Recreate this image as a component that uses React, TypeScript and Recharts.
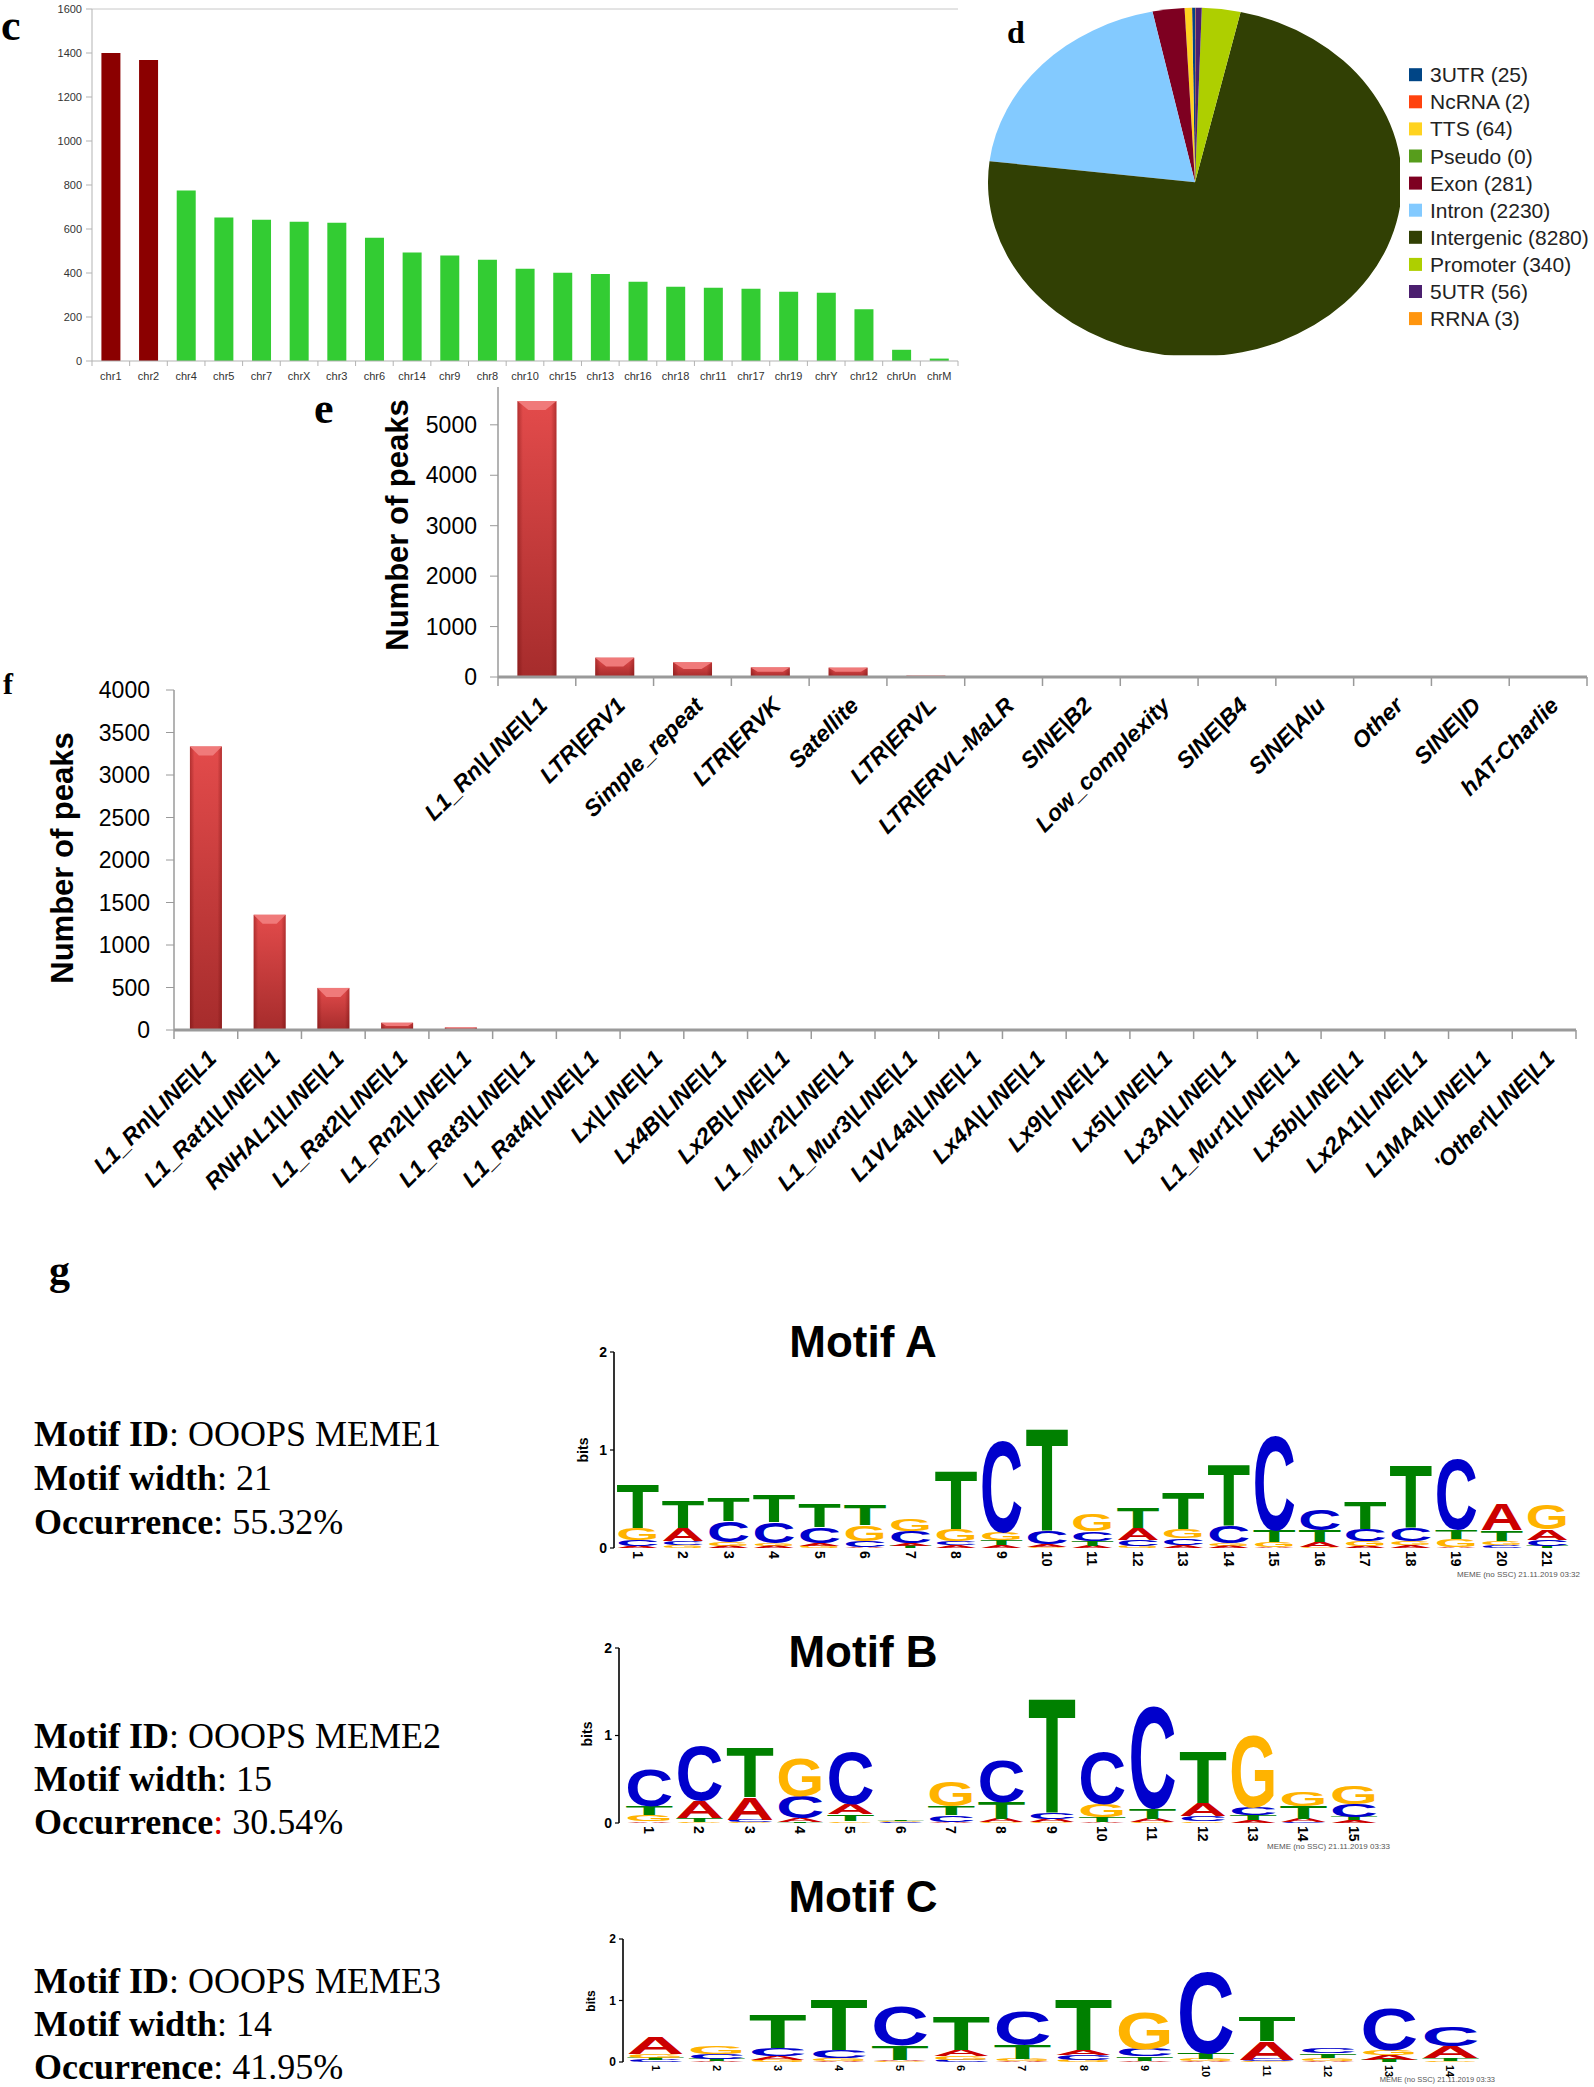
import React from 'react';
import { BarChart, Bar, XAxis, YAxis, Cell, PieChart, Pie, ReferenceLine } from 'recharts';

const SANS = "'Liberation Sans', Arial, Helvetica, sans-serif";
const SERIF = "'Liberation Serif', 'Times New Roman', serif";

// ---------- panel c : peaks per chromosome ----------
const chrNames = ['chr1', 'chr2', 'chr4', 'chr5', 'chr7', 'chrX', 'chr3', 'chr6', 'chr14', 'chr9', 'chr8', 'chr10', 'chr15', 'chr13', 'chr16', 'chr18', 'chr11', 'chr17', 'chr19', 'chrY', 'chr12', 'chrUn', 'chrM'];
const chrPeaks = [1400, 1368, 775, 652, 642, 633, 628, 560, 493, 480, 460, 419, 401, 395, 360, 338, 333, 328, 315, 310, 235, 51, 11];
const chrTicks = [0, 200, 400, 600, 800, 1000, 1200, 1400, 1600];

// ---------- panel d : genomic annotation ----------
const annoLabels = ['3UTR', 'NcRNA', 'TTS', 'Pseudo', 'Exon', 'Intron', 'Intergenic', 'Promoter', '5UTR', 'RRNA'];
const annoCounts = [25, 2, 64, 0, 281, 2230, 8280, 340, 56, 3];
const ANNO_COLORS = ['#004586', '#ff420e', '#ffd320', '#579d1c', '#7e0021', '#83caff', '#314004', '#aecf00', '#4b1f6f', '#ff950e'];

// ---------- panel e : repeat classes ----------
const repeatClasses = ['L1_Rn|LINE|L1', 'LTR|ERV1', 'Simple_repeat', 'LTR|ERVK', 'Satellite', 'LTR|ERVL', 'LTR|ERVL-MaLR', 'SINE|B2', 'Low_complexity', 'SINE|B4', 'SINE|Alu', 'Other', 'SINE|ID', 'hAT-Charlie'];
const repeatPeaks = [5470, 383, 290, 190, 185, 26, 20, 10, 8, 8, 3, 2, 1, 1];
const repeatTicks = [0, 1000, 2000, 3000, 4000, 5000];

// ---------- panel f : L1 subfamilies ----------
const l1Names = ['L1_Rn|LINE|L1', 'L1_Rat1|LINE|L1', 'RNHAL1|LINE|L1', 'L1_Rat2|LINE|L1', 'L1_Rn2|LINE|L1', 'L1_Rat3|LINE|L1', 'L1_Rat4|LINE|L1', 'Lx|LINE|L1', 'Lx4B|LINE|L1', 'Lx2B|LINE|L1', 'L1_Mur2|LINE|L1', 'L1_Mur3|LINE|L1', 'L1VL4a|LINE|L1', 'Lx4A|LINE|L1', 'Lx9|LINE|L1', 'Lx5|LINE|L1', 'Lx3A|LINE|L1', 'L1_Mur1|LINE|L1', 'Lx5b|LINE|L1', 'Lx2A1|LINE|L1', 'L1MA4|LINE|L1', "'Other|LINE|L1"];
const l1Peaks = [3335, 1355, 495, 85, 30, 8, 6, 5, 5, 4, 4, 3, 3, 3, 3, 3, 2, 2, 2, 2, 2, 1];
const l1Ticks = [0, 500, 1000, 1500, 2000, 2500, 3000, 3500, 4000];

// ---------- panel g : motifs (bits per letter per position) ----------
const motifA_A = [0.02, 0.13, 0.02, 0.02, 0.03, 0.01, 0.03, 0.03, 0.03, 0.03, 0.02, 0.12, 0.03, 0.02, 0.01, 0.05, 0.02, 0.03, 0.01, 0.27, 0.11];
const motifA_C = [0.06, 0.04, 0.22, 0.22, 0.16, 0.06, 0.12, 0.04, 0.95, 0.13, 0.10, 0.06, 0.07, 0.18, 0.97, 0.22, 0.12, 0.14, 0.73, 0.03, 0.06];
const motifA_G = [0.12, 0.03, 0.04, 0.03, 0.02, 0.16, 0.125, 0.12, 0.08, 0.01, 0.18, 0.02, 0.09, 0.03, 0.05, 0.01, 0.05, 0.04, 0.08, 0.04, 0.25];
const motifA_T = [0.46, 0.29, 0.24, 0.28, 0.24, 0.21, 0.02, 0.61, 0.05, 1.07, 0.05, 0.22, 0.38, 0.63, 0.12, 0.12, 0.28, 0.65, 0.10, 0.11, 0.02];

const motifB_A = [0.02, 0.20, 0.26, 0.05, 0.12, 0.005, 0.01, 0.04, 0.04, 0.01, 0.04, 0.15, 0.03, 0.04, 0.03];
const motifB_C = [0.42, 0.63, 0.03, 0.25, 0.61, 0.01, 0.08, 0.49, 0.08, 0.60, 1.18, 0.06, 0.09, 0.01, 0.15];
const motifB_G = [0.07, 0.01, 0.01, 0.44, 0.02, 0.011, 0.28, 0.01, 0.01, 0.15, 0.01, 0.02, 0.83, 0.16, 0.21];
const motifB_T = [0.11, 0.05, 0.57, 0.01, 0.08, 0.012, 0.10, 0.19, 1.33, 0.06, 0.12, 0.60, 0.06, 0.15, 0.04];

const motifC_A = [0.28, 0.02, 0.06, 0.02, 0.02, 0.10, 0.01, 0.09, 0.02, 0.02, 0.30, 0.02, 0.08, 0.20];
const motifC_C = [0.03, 0.08, 0.12, 0.12, 0.64, 0.04, 0.55, 0.08, 0.12, 1.33, 0.03, 0.09, 0.70, 0.33];
const motifC_G = [0.06, 0.13, 0.04, 0.05, 0.01, 0.06, 0.04, 0.03, 0.61, 0.03, 0.01, 0.05, 0.09, 0.02];
const motifC_T = [0.04, 0.03, 0.57, 0.84, 0.24, 0.57, 0.23, 0.84, 0.07, 0.10, 0.41, 0.07, 0.03, 0.04];

const motifIds = ['OOOPS MEME1', 'OOOPS MEME2', 'OOOPS MEME3'];
const motifWidths = ['21', '15', '14'];
const motifOccurrences = ['55.32%', '30.54%', '41.95%'];
const motifTitles = ['Motif A', 'Motif B', 'Motif C'];
const memeStamps = ['MEME (no SSC) 21.11.2019 03:32', 'MEME (no SSC) 21.11.2019 03:33', 'MEME (no SSC) 21.11.2019 03:33'];

// ---------- derived tables ----------
const chrData = chrNames.map((name, i) => ({ name, peaks: chrPeaks[i] }));
const annoData = annoLabels.map((label, i) => ({ label, count: annoCounts[i] }));
const repeatData = repeatClasses.map((name, i) => ({ name, peaks: repeatPeaks[i] }));
const l1Data = l1Names.map((name, i) => ({ name, peaks: l1Peaks[i] }));

const buildLogo = (A: number[], C: number[], G: number[], T: number[]) =>
  A.map((_, i) => {
    const items: [string, number][] = [['A', A[i]], ['C', C[i]], ['G', G[i]], ['T', T[i]]];
    items.sort((a, b) => a[1] - b[1]);
    const row: any = { pos: String(i + 1) };
    items.forEach(([l, v], k) => {
      row['s' + k] = v;
      row['l' + k] = l;
    });
    return row;
  });

const logoA = buildLogo(motifA_A, motifA_C, motifA_G, motifA_T);
const logoB = buildLogo(motifB_A, motifB_C, motifB_G, motifB_T);
const logoC = buildLogo(motifC_A, motifC_C, motifC_G, motifC_T);

// ---------- custom shapes / ticks ----------
const C_BAND = 866 / chrNames.length;
const ChrTick = (props: any) => {
  const { x, y, payload, index } = props;
  return (
    <g>
      <line x1={x - C_BAND / 2} x2={x - C_BAND / 2} y1={y} y2={y + 5} stroke="#b3b3b3" />
      {index === chrNames.length - 1 && <line x1={x + C_BAND / 2} x2={x + C_BAND / 2} y1={y} y2={y + 5} stroke="#b3b3b3" />}
      <text x={x} y={y + 19} textAnchor="middle" fontSize={11} fill="#333" fontFamily={SANS}>
        {payload.value}
      </text>
    </g>
  );
};

const makeRotTick = (band: number, n: number) => (props: any) => {
  const { x, y, payload, index } = props;
  const ax = x + 12;
  const ay = y + 30;
  return (
    <g>
      <line x1={x - band / 2} x2={x - band / 2} y1={y} y2={y + 9} stroke="#9a9a9a" strokeWidth={1.5} />
      {index === n - 1 && <line x1={x + band / 2} x2={x + band / 2} y1={y} y2={y + 9} stroke="#9a9a9a" strokeWidth={1.5} />}
      <text
        x={ax}
        y={ay}
        transform={`rotate(-45 ${ax} ${ay})`}
        textAnchor="end"
        fontSize={23}
        fontWeight="bold"
        fontStyle="italic"
        fontFamily={SANS}
        fill="#000"
      >
        {payload.value}
      </text>
    </g>
  );
};
const eTick = makeRotTick(1089 / repeatClasses.length, repeatClasses.length);
const fTick = makeRotTick(1402 / l1Names.length, l1Names.length);

const make3D = (gid: string) => (props: any) => {
  const { x, y, width, height } = props;
  if (!height || height <= 0) return <g />;
  const bev = Math.min(9, height * 0.45);
  const inset = Math.min(width * 0.28, bev * 1.6);
  return (
    <g>
      <rect x={x} y={y} width={width} height={height} fill={`url(#${gid}V)`} />
      <rect x={x} y={y} width={width} height={height} fill={`url(#${gid}H)`} />
      <polygon
        points={`${x},${y} ${x + width},${y} ${x + width - inset},${y + bev} ${x + inset},${y + bev}`}
        fill="#f07a7a"
      />
    </g>
  );
};
const Bar3DE = make3D('ge');
const Bar3DF = make3D('gf');

const BarGradients = ({ gid }: { gid: string }) => (
  <defs>
    <linearGradient id={gid + 'V'} x1="0" y1="0" x2="0" y2="1">
      <stop offset="0%" stopColor="#e34b4b" />
      <stop offset="100%" stopColor="#a62c2c" />
    </linearGradient>
    <linearGradient id={gid + 'H'} x1="0" y1="0" x2="1" y2="0">
      <stop offset="0%" stopColor="#5a0000" stopOpacity={0.35} />
      <stop offset="14%" stopColor="#5a0000" stopOpacity={0} />
      <stop offset="86%" stopColor="#5a0000" stopOpacity={0} />
      <stop offset="100%" stopColor="#5a0000" stopOpacity={0.35} />
    </linearGradient>
  </defs>
);

const LETTER_COLORS: Record<string, string> = { A: '#cc0000', C: '#0000cc', G: '#ffb300', T: '#008000' };
const makeLetterShape = (slot: number) => (props: any) => {
  const { x, y, width, height, payload } = props;
  if (!height || height < 0.4 || !payload) return <g />;
  const letter = payload['l' + slot];
  const F = 100;
  const sy = height / (F * 0.716);
  return (
    <text
      transform={`translate(${x},${y + height}) scale(1,${sy})`}
      x={0}
      y={0}
      fontSize={F}
      fontWeight="bold"
      fontFamily={SANS}
      fill={LETTER_COLORS[letter]}
      textLength={width}
      lengthAdjust="spacingAndGlyphs"
    >
      {letter}
    </text>
  );
};
const letterShapes = [0, 1, 2, 3].map((k) => makeLetterShape(k));

const makeNumTick = (fs: number) => (props: any) => {
  const { x, y, payload } = props;
  const ax = x - fs * 0.36;
  const ay = y + 3;
  return (
    <text
      transform={`translate(${ax},${ay}) rotate(90)`}
      textAnchor="start"
      fontSize={fs}
      fontWeight="bold"
      fontFamily={SANS}
      fill="#000"
    >
      {payload.value}
    </text>
  );
};

const Logo = (p: {
  data: any[];
  width: number;
  height: number;
  margin: any;
  xHeight: number;
  padLeft: number;
  numFont: number;
  yFont: number;
}) => (
  <BarChart width={p.width} height={p.height} data={p.data} margin={p.margin} barCategoryGap="2.5%">
    <XAxis
      dataKey="pos"
      interval={0}
      height={p.xHeight}
      axisLine={false}
      tickLine={false}
      tickSize={0}
      tickMargin={0}
      padding={{ left: p.padLeft, right: 0 }}
      tick={makeNumTick(p.numFont)}
    />
    <YAxis
      domain={[0, 2]}
      ticks={[0, 1, 2]}
      width={40}
      axisLine={{ stroke: '#000', strokeWidth: 1.6 }}
      tickLine={{ stroke: '#000', strokeWidth: 1.2 }}
      tickSize={4}
      tickMargin={3}
      tick={{ fontSize: p.yFont, fontWeight: 'bold', fill: '#000', fontFamily: SANS }}
    />
    {[0, 1, 2, 3].map((k) => (
      <Bar key={k} dataKey={'s' + k} stackId="logo" isAnimationActive={false} shape={letterShapes[k]} />
    ))}
  </BarChart>
);

const abs = (left: number, top: number): React.CSSProperties => ({ position: 'absolute', left, top });

export default function App() {
  const infoTops = [1446, 1748, 1993];
  const infoStep = [44, 43, 43];
  const titleBase = [1357, 1667, 1912];
  const bitsPos = [
    [583, 1450, 14],
    [587, 1734, 14],
    [591, 2001, 12],
  ];
  const stampPos = [
    [1580, 1577, 8],
    [1390, 1849, 8],
    [1495, 2082, 7.5],
  ];
  return (
    <div style={{ position: 'absolute', left: 0, top: 0, width: 1594, height: 2087, background: '#fff', overflow: 'hidden' }}>
      {/* panel c */}
      <div style={abs(0, 0)}>
        <BarChart width={970} height={400} data={chrData} margin={{ top: 9, right: 12, left: 32, bottom: 9 }} barCategoryGap="25%">
          <XAxis dataKey="name" interval={0} height={30} tickLine={false} tickSize={0} tickMargin={0} axisLine={{ stroke: '#b3b3b3' }} tick={ChrTick} />
          <YAxis
            domain={[0, 1600]}
            ticks={chrTicks}
            width={60}
            axisLine={{ stroke: '#b3b3b3' }}
            tickLine={{ stroke: '#b3b3b3' }}
            tickSize={6}
            tickMargin={4}
            tick={{ fontSize: 11, fill: '#333', fontFamily: SANS }}
          />
          <YAxis yAxisId="r" orientation="right" width={0} tick={false} tickLine={false} axisLine={{ stroke: '#c8c8c8' }} />
          <ReferenceLine y={1600} stroke="#c8c8c8" />
          <Bar dataKey="peaks" isAnimationActive={false}>
            {chrData.map((d, i) => (
              <Cell key={d.name} fill={i < 2 ? '#8b0000' : '#33cc33'} />
            ))}
          </Bar>
        </BarChart>
      </div>

      {/* panel d */}
      <div style={{ ...abs(980, 1), width: 420, height: 420, transform: 'scale(1, 0.8434)', transformOrigin: 'top left' }}>
        <PieChart width={420} height={420}>
          <Pie
            data={annoData}
            dataKey="count"
            nameKey="label"
            cx={210}
            cy={210}
            innerRadius={0}
            outerRadius={207}
            startAngle={90}
            endAngle={450}
            stroke="none"
            isAnimationActive={false}
          >
            {annoData.map((d, i) => (
              <Cell key={d.label} fill={ANNO_COLORS[i]} />
            ))}
          </Pie>
        </PieChart>
      </div>

      {/* panel e */}
      <div style={abs(300, 380)}>
        <BarChart width={1294} height={470} data={repeatData} margin={{ top: 7, right: 7, left: 98, bottom: 3 }} barCategoryGap="25%">
          <BarGradients gid="ge" />
          <XAxis dataKey="name" interval={0} height={170} tickLine={false} tickSize={0} tickMargin={0} axisLine={{ stroke: '#9a9a9a', strokeWidth: 3 }} tick={eTick} />
          <YAxis
            domain={[0, 5750]}
            ticks={repeatTicks}
            width={100}
            axisLine={{ stroke: '#9a9a9a', strokeWidth: 1.5 }}
            tickLine={{ stroke: '#9a9a9a' }}
            tickSize={8}
            tickMargin={13}
            tick={{ fontSize: 23, fill: '#000', fontFamily: SANS }}
          />
          <Bar dataKey="peaks" isAnimationActive={false} shape={Bar3DE} />
        </BarChart>
      </div>

      {/* panel f */}
      <div style={abs(0, 660)}>
        <BarChart width={1594} height={560} data={l1Data} margin={{ top: 30, right: 18, left: 74, bottom: 10 }} barCategoryGap="25%">
          <BarGradients gid="gf" />
          <XAxis dataKey="name" interval={0} height={180} tickLine={false} tickSize={0} tickMargin={0} axisLine={{ stroke: '#9a9a9a', strokeWidth: 3 }} tick={fTick} />
          <YAxis
            domain={[0, 4000]}
            ticks={l1Ticks}
            width={100}
            axisLine={{ stroke: '#9a9a9a', strokeWidth: 1.5 }}
            tickLine={{ stroke: '#9a9a9a' }}
            tickSize={8}
            tickMargin={16}
            tick={{ fontSize: 23, fill: '#000', fontFamily: SANS }}
          />
          <Bar dataKey="peaks" isAnimationActive={false} shape={Bar3DF} />
        </BarChart>
      </div>

      {/* panel g logos */}
      <div style={abs(560, 1340)}>
        <Logo data={logoA} width={1034} height={260} margin={{ top: 12, right: 24, left: 14, bottom: 22 }} xHeight={30} padLeft={1} numFont={14} yFont={14} />
      </div>
      <div style={abs(560, 1630)}>
        <Logo data={logoB} width={880} height={240} margin={{ top: 18, right: 61, left: 19, bottom: 17 }} xHeight={30} padLeft={5} numFont={14} yFont={14} />
      </div>
      <div style={abs(560, 1920)}>
        <Logo data={logoC} width={940} height={167} margin={{ top: 19, right: 19, left: 23, bottom: 3 }} xHeight={22} padLeft={2} numFont={11} yFont={12} />
      </div>

      {/* text overlay */}
      <svg width={1594} height={2087} style={{ position: 'absolute', left: 0, top: 0, pointerEvents: 'none' }}>
        <g fontFamily={SERIF} fontWeight="bold" fill="#000">
          <text x={1} y={40} fontSize={44}>c</text>
          <text x={1007} y={43} fontSize={32}>d</text>
          <text x={314} y={423} fontSize={44}>e</text>
          <text x={3} y={694} fontSize={30}>f</text>
          <text x={49} y={1284} fontSize={42}>g</text>
        </g>

        {/* pie legend */}
        {annoData.map((d, i) => {
          const cy = 74.7 + i * 27.1;
          return (
            <g key={d.label}>
              <rect x={1409} y={cy - 6.5} width={13} height={13} fill={ANNO_COLORS[i]} />
              <text x={1430} y={cy + 7.5} fontSize={21} fontFamily={SANS} fill="#222">
                {`${d.label} (${d.count})`}
              </text>
            </g>
          );
        })}

        {/* axis titles */}
        <text transform="translate(408,525) rotate(-90)" textAnchor="middle" fontSize={31} fontWeight="bold" fontFamily={SANS} fill="#000">
          Number of peaks
        </text>
        <text transform="translate(73,858) rotate(-90)" textAnchor="middle" fontSize={31} fontWeight="bold" fontFamily={SANS} fill="#000">
          Number of peaks
        </text>

        {/* motif info */}
        {motifIds.map((id, m) => {
          const b = infoTops[m];
          const s = infoStep[m];
          return (
            <g key={id} fontFamily={SERIF} fontSize={36} fill="#000">
              <text x={34} y={b}>
                <tspan fontWeight="bold">Motif ID</tspan>
                <tspan>{': ' + id}</tspan>
              </text>
              <text x={34} y={b + s}>
                <tspan fontWeight="bold">Motif width</tspan>
                <tspan>{': ' + motifWidths[m]}</tspan>
              </text>
              <text x={34} y={b + 2 * s}>
                <tspan fontWeight="bold">Occurrence</tspan>
                <tspan fill={m === 1 ? '#e00000' : '#000'}>:</tspan>
                <tspan>{' ' + motifOccurrences[m]}</tspan>
              </text>
            </g>
          );
        })}

        {/* motif titles, bits labels, stamps */}
        {motifTitles.map((t, m) => (
          <g key={t}>
            <text x={863} y={titleBase[m]} textAnchor="middle" fontSize={44} fontWeight="bold" fontFamily={SANS} fill="#000">
              {t}
            </text>
            <text
              transform={`translate(${bitsPos[m][0] + bitsPos[m][2] * 0.36},${bitsPos[m][1]}) rotate(-90)`}
              textAnchor="middle"
              fontSize={bitsPos[m][2]}
              fontWeight="bold"
              fontFamily={SANS}
              fill="#000"
            >
              bits
            </text>
            <text x={stampPos[m][0]} y={stampPos[m][1]} textAnchor="end" fontSize={stampPos[m][2]} fontFamily={SANS} fill="#555">
              {memeStamps[m]}
            </text>
          </g>
        ))}
      </svg>
    </div>
  );
}
